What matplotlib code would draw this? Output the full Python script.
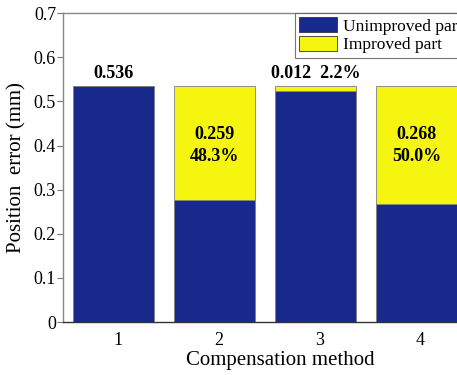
import numpy as np
import matplotlib
matplotlib.use("Agg")
import matplotlib.pyplot as plt
import matplotlib.transforms as mtransforms

plt.rcParams['font.family'] = ['Liberation Serif', 'DejaVu Serif']
plt.rcParams['mathtext.fontset'] = 'stix'

# compensation methods and error split (mm)
methods = [1, 2, 3, 4]
unimproved = [0.536, 0.277, 0.524, 0.268]
improved = [0.0, 0.259, 0.012, 0.268]
total = 0.536

blue = '#172a8b'
yellow = '#f5f50f'

fig = plt.figure(figsize=(4.57, 3.75), dpi=100)
ax = fig.add_axes([0.138, 0.141, 0.884, 0.824])

x = np.array(methods)
ax.bar(x, unimproved, width=0.8, color=blue, edgecolor='#808080', linewidth=0.6,
       label='Unimproved part')
ax.bar(x, improved, width=0.8, bottom=unimproved, color=yellow, edgecolor='#808080',
       linewidth=0.6, label='Improved part')

# value labels
lab_kw = dict(ha='center', va='center', fontsize=13, fontweight='bold')
ax.text(x[0], total + 0.028, '%.3f' % unimproved[0], **lab_kw)
ax.text(x[2], total + 0.028, '%.3f  %.1f%%' % (improved[2], improved[2] / total * 100), **lab_kw)
for i in (1, 3):
    ax.text(x[i], 0.400, '%.3f\n%.1f%%' % (improved[i], improved[i] / total * 100),
            linespacing=1.45, **lab_kw)

ax.set_xlim(0.5, 4.5)
ax.set_ylim(0, 0.7)
ax.set_xticks(methods)
ax.set_yticks(np.arange(0, 0.71, 0.1))
ax.set_yticklabels(['0', '0.1', '0.2', '0.3', '0.4', '0.5', '0.6', '0.7'])
ax.tick_params(axis='y', direction='out', labelsize=13, length=4, pad=1, color='#777777')
ax.tick_params(axis='x', labelsize=13, length=0, pad=7)
shift = mtransforms.ScaledTranslation(4 / 100, 0, fig.dpi_scale_trans)
for lbl in ax.get_xticklabels():
    lbl.set_transform(lbl.get_transform() + shift)
for s in ax.spines.values():
    s.set_color('#888888')
    s.set_linewidth(1.0)
ax.spines['bottom'].set_color('#333333')

ax.set_xlabel('Compensation method', fontsize=15, labelpad=1)
ax.xaxis.set_label_coords(0.537, -0.092)
ax.set_ylabel('Position  error (mm)', fontsize=15, labelpad=5)

leg = ax.legend(loc='upper right', bbox_to_anchor=(1.0, 1.0), fontsize=12.5,
                frameon=True, fancybox=False, borderaxespad=0, borderpad=0.25,
                handlelength=2.2, handleheight=0.95, handletextpad=0.35,
                labelspacing=0.05)
leg.get_frame().set_edgecolor('#555555')
leg.get_frame().set_linewidth(0.8)
for h in leg.legend_handles:
    h.set_edgecolor('#333333')

fig.savefig('out.png', dpi=100)
